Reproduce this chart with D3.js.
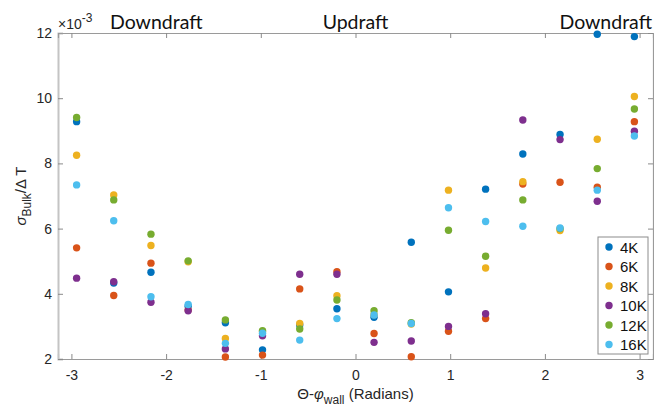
<!DOCTYPE html>
<html>
<head>
<meta charset="utf-8">
<script src="https://cdn.jsdelivr.net/npm/d3@7"></script>
<style>
    body { margin: 0; background: #fff; }
    svg { display: block; }
</style>
</head>
<body>
<div id="chart"></div>
<script>
// angle positions (radians) and sigma values (x 10^-3)
const xPos = [-2.945, -2.553, -2.160, -1.767, -1.374, -0.982, -0.589, -0.196, 0.196, 0.589, 0.982, 1.374, 1.767, 2.160, 2.553, 2.945];
const s4K  = [9.28, 4.33, 4.66, 3.62, 3.11, 2.28, 3.04, 3.54, 3.28, 5.58, 4.06, 7.21, 8.29, 8.89, 11.96, 11.89];
const s6K  = [5.41, 3.95, 4.94, 3.50, 2.06, 2.12, 4.15, 4.68, 2.78, 2.07, 2.85, 3.24, 7.37, 7.42, 7.27, 9.28];
const s8K  = [8.25, 7.03, 5.48, 4.98, 2.63, 2.84, 3.09, 3.94, 3.36, 3.07, 7.18, 4.79, 7.44, 5.94, 8.74, 10.05];
const s10K = [4.48, 4.37, 3.74, 3.48, 2.31, 2.71, 4.60, 4.60, 2.51, 2.55, 3.00, 3.39, 9.33, 8.73, 6.84, 8.99];
const s12K = [9.41, 6.88, 5.83, 5.01, 3.20, 2.87, 2.92, 3.81, 3.48, 3.11, 5.95, 5.15, 6.88, 6.00, 7.84, 9.67];
const s16K = [7.34, 6.24, 3.91, 3.67, 2.48, 2.79, 2.58, 3.24, 3.35, 3.09, 6.64, 6.22, 6.07, 6.02, 7.18, 8.84];

const seriesNames = ['4K', '6K', '8K', '10K', '12K', '16K'];
const seriesValues = [s4K, s6K, s8K, s10K, s12K, s16K];
const seriesColors = ['#0072BD', '#D95319', '#EDB120', '#7E2F8E', '#77AC30', '#4DBEEE'];

const xTicks = [-3, -2, -1, 0, 1, 2, 3];
const yTicks = [2, 4, 6, 8, 10, 12];

const regionLabels = ['Downdraft', 'Updraft', 'Downdraft'];

const width = 654, height = 406;
const margin = { top: 33, right: 1, bottom: 47, left: 58 };
const innerW = width - margin.left - margin.right;
const innerH = height - margin.top - margin.bottom;

const svg = d3.select('#chart').append('svg')
    .attr('width', width)
    .attr('height', height);

const g = svg.append('g')
    .attr('transform', `translate(${margin.left},${margin.top})`);

const x = d3.scaleLinear().domain([-Math.PI, Math.PI]).range([0, innerW]);
const y = d3.scaleLinear().domain([2, 12]).range([innerH, 0]);

const tickFont = '"Liberation Sans", Arial, sans-serif';

// axes with inward ticks (plain hyphen for negatives, like the original)
const axBottom = g.append('g')
    .attr('transform', `translate(0,${innerH})`)
    .call(d3.axisBottom(x).tickValues(xTicks).tickSize(-5).tickPadding(11).tickFormat(d => String(d)));
const axLeft = g.append('g')
    .call(d3.axisLeft(y).tickValues(yTicks).tickSize(-5).tickPadding(6).tickFormat(d => String(d)));
const axTop = g.append('g')
    .call(d3.axisTop(x).tickValues(xTicks).tickSize(-5).tickFormat(''));
const axRight = g.append('g')
    .attr('transform', `translate(${innerW},0)`)
    .call(d3.axisRight(y).tickValues(yTicks).tickSize(-5).tickFormat(''));

[axBottom, axLeft, axTop, axRight].forEach(ax => {
    ax.select('.domain').attr('stroke', '#9a9a9a').attr('stroke-width', 1.2);
    ax.selectAll('.tick line').attr('stroke', '#8a8a8a');
    ax.selectAll('.tick text')
        .style('font-family', tickFont)
        .style('font-size', '14px')
        .attr('fill', '#262626');
});
axLeft.select('.domain').attr('stroke', '#c4c4c4').attr('stroke-width', 2);

// scatter points, one series after another
seriesValues.forEach((vals, i) => {
    g.append('g').selectAll('circle')
        .data(vals.map((v, j) => ({ x: xPos[j], v })))
        .enter().append('circle')
        .attr('cx', d => x(d.x))
        .attr('cy', d => y(d.v))
        .attr('r', 3.7)
        .attr('fill', seriesColors[i]);
});

// exponent label
const expo = svg.append('text')
    .attr('x', margin.left)
    .attr('y', 29)
    .style('font-family', tickFont)
    .style('font-size', '14px')
    .attr('fill', '#262626');
expo.append('tspan').text('×10');
expo.append('tspan').attr('dy', -7).style('font-size', '12px').text('-3');

// region labels
const titleFont = 'Lato, "Open Sans", sans-serif';
svg.append('text').attr('x', 110).attr('y', 29).attr('text-anchor', 'start')
    .style('font-family', titleFont).style('font-size', '19.5px').attr('fill', '#111')
    .text(regionLabels[0]);
svg.append('text').attr('x', margin.left + x(0)).attr('y', 29).attr('text-anchor', 'middle')
    .style('font-family', titleFont).style('font-size', '19.5px').attr('fill', '#111')
    .text(regionLabels[1]);
svg.append('text').attr('x', 652).attr('y', 29).attr('text-anchor', 'end')
    .style('font-family', titleFont).style('font-size', '19.5px').attr('fill', '#111')
    .text(regionLabels[2]);

// y label
const yl = svg.append('text')
    .attr('transform', 'translate(26,196) rotate(-90)')
    .attr('text-anchor', 'middle')
    .style('font-family', tickFont)
    .style('font-size', '15px')
    .attr('fill', '#262626');
yl.append('tspan').style('font-style', 'italic').text('σ');
yl.append('tspan').attr('dy', 5).style('font-size', '12px').text('Bulk');
yl.append('tspan').attr('dy', -5).text('/Δ T');

// x label
const xl = svg.append('text')
    .attr('x', margin.left + x(0))
    .attr('y', 399)
    .attr('text-anchor', 'middle')
    .style('font-family', tickFont)
    .style('font-size', '15px')
    .attr('fill', '#262626');
xl.append('tspan').text('Θ-');
xl.append('tspan').style('font-style', 'italic').text('φ');
xl.append('tspan').attr('dy', 5).style('font-size', '12px').text('wall');
xl.append('tspan').attr('dy', -5).text(' (Radians)');

// legend
const lg = svg.append('g').attr('transform', 'translate(598,237)');
lg.append('rect')
    .attr('width', 50).attr('height', 117)
    .attr('fill', '#fff').attr('stroke', '#8c8c8c').attr('stroke-width', 1);
seriesNames.forEach((name, i) => {
    const row = lg.append('g').attr('transform', `translate(0,${10 + i * 19.5})`);
    row.append('circle').attr('cx', 11).attr('cy', 0).attr('r', 3.7).attr('fill', seriesColors[i]);
    row.append('text').attr('x', 22).attr('y', 5.5)
        .style('font-family', tickFont).style('font-size', '15px').attr('fill', '#111')
        .text(name);
});
</script>
</body>
</html>
